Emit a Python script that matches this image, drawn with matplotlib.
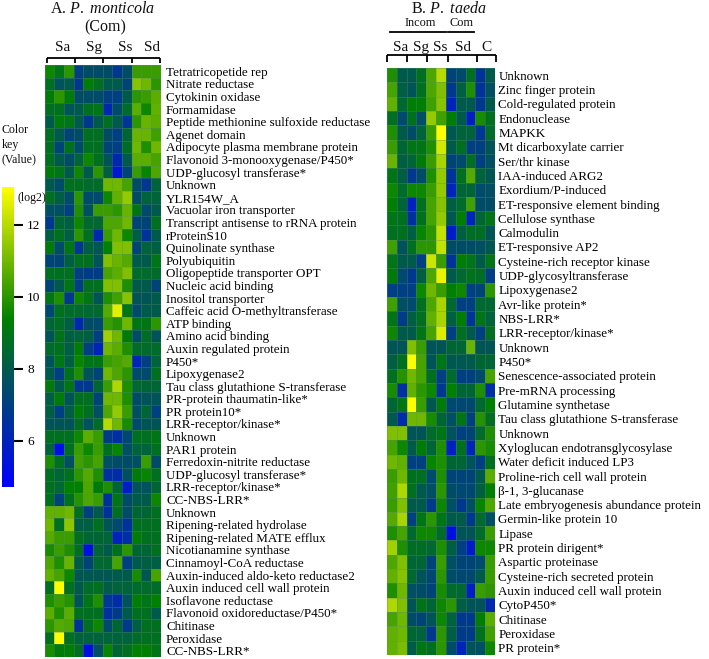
import numpy as np
import matplotlib
matplotlib.use("Agg")
import matplotlib.pyplot as plt
from matplotlib.colors import LinearSegmentedColormap, Normalize
from matplotlib.cm import ScalarMappable

plt.rcParams['font.family'] = ['Liberation Serif', 'DejaVu Serif']
plt.rcParams['mathtext.fontset'] = 'custom'
plt.rcParams['mathtext.rm'] = 'Liberation Serif'
plt.rcParams['mathtext.it'] = 'Liberation Serif:italic'

labels_a = ["Tetratricopetide rep","Nitrate reductase","Cytokinin oxidase","Formamidase",
"Peptide methionine sulfoxide reductase","Agenet domain","Adipocyte plasma membrane protein",
"Flavonoid 3-monooxygenase/P450*","UDP-glucosyl transferase*","Unknown","YLR154W_A",
"Vacuolar iron transporter","Transcript antisense to rRNA protein","rProteinS10","Quinolinate synthase",
"Polyubiquitin","Oligopeptide transporter OPT","Nucleic acid binding","Inositol transporter",
"Caffeic acid O-methyltransferase","ATP binding","Amino acid binding","Auxin regulated protein","P450*",
"Lipoxygenase2","Tau class glutathione S-transferase","PR-protein thaumatin-like*","PR protein10*",
"LRR-receptor/kinase*","Unknown","PAR1 protein","Ferredoxin-nitrite reductase","UDP-glucosyl transferase*",
"LRR-receptor/kinase*","CC-NBS-LRR*","Unknown","Ripening-related hydrolase","Ripening-related MATE efflux",
"Nicotianamine synthase","Cinnamoyl-CoA reductase","Auxin-induced aldo-keto reductase2",
"Auxin induced cell wall protein","Isoflavone reductase","Flavonoid oxidoreductase/P450*","Chitinase",
"Peroxidase","CC-NBS-LRR*"]

labels_b = ["Unknown","Zinc finger protein","Cold-regulated protein","Endonuclease","MAPKK",
"Mt dicarboxylate carrier","Ser/thr kinase","IAA-induced ARG2","Exordium/P-induced",
"ET-responsive element binding","Cellulose synthase","Calmodulin","ET-responsive AP2",
"Cysteine-rich receptor kinase","UDP-glycosyltransferase","Lipoxygenase2","Avr-like protein*","NBS-LRR*",
"LRR-receptor/kinase*","Unknown","P450*","Senescence-associated protein","Pre-mRNA processing",
"Glutamine synthetase","Tau class glutathione S-transferase","Unknown","Xyloglucan endotransglycosylase",
"Water deficit induced LP3","Proline-rich cell wall protein","β-1, 3-glucanase",
"Late embryogenesis abundance protein","Germin-like protein 10","Lipase","PR protein dirigent*",
"Aspartic proteinase","Cysteine-rich secreted protein","Auxin induced cell wall protein","CytoP450*",
"Chitinase","Peroxidase","PR protein*"]

values_a = [
[9.6,9,10,7,7.5,7.5,7.5,6.8,7.5,10.2,10.2,10.2],
[8.8,7.7,8,6.8,9.3,8.8,8,8,7.2,11.3,11,10],
[9.2,10,9.2,7.5,7.5,7.5,7,7,8,10,10.2,10.7],
[8.8,8.8,7.8,8,8.8,9,6.2,7.5,8.6,10.7,9.6,10.8],
[8,9.2,9,8,6.8,8,8.8,8,6.7,10,10.9,10.7],
[8.8,8,7.2,7.5,8.8,8.8,7.5,7,8.4,10.9,10.9,10.3],
[8.8,7.2,8.8,7.5,8.8,8.8,7.2,7,8.7,11,9.8,11],
[8.8,8,7.5,8.3,9.6,8.8,7.8,6.2,8,10.7,10.7,10.4],
[9.2,9,8,9.6,8,10,8.2,5.6,7.2,10.2,9.5,10.5],
[8,7.5,8.8,8.8,8.6,8.6,11,11,10.4,7.5,6.8,8.3],
[8.8,8.2,7.5,10,7.4,7.4,9.6,10.8,11.5,7.5,8.3,8.3],
[7.6,7.6,7,9.8,7.6,10.2,10.2,10,10.9,9,7.4,8],
[6.8,8.4,8.2,9.6,8.5,8.5,10.5,10.5,11,7.2,7.2,8.8],
[8.2,8.8,8.2,10,8.8,6.2,10.2,11,9.6,8.2,6.6,8],
[9.2,7.5,9,6.8,8.2,7.9,9.4,11.2,11.2,7.2,8.3,8.2],
[7.2,7.2,8.2,8.8,8.8,7.8,11.2,10.9,10.6,8,8,9],
[8.8,8.8,8.8,7,6.9,6.9,10.4,10.7,11.2,8.6,8.6,8.6],
[7.2,8,9,7,8.8,8.8,11.2,11.2,9.8,8,8,7.2],
[9,9.8,6.8,9.6,9,7.8,9.8,10.3,11.3,7.8,7.8,8],
[7.3,8.8,8.6,8.6,8.5,8.5,10.6,12.6,9,7.4,8,8],
[8.4,8.7,8.2,6.2,7.5,7.4,10.2,9.9,11,9,9,10],
[7.8,8.9,8.2,8.3,8.2,7,11.7,11,9.2,7.5,8.7,7.8],
[8.6,8.8,8.2,9.3,7,6,11,10.7,9.8,8.6,8.6,8.6],
[7.8,9,8.2,9.5,9,9,10.2,10.4,10.6,6,7,8.3],
[8,7,8.8,9.8,7.8,7.2,11,10.5,10,7.4,7.4,8.8],
[9.2,8,9,6.8,6.8,8.4,10.2,11.9,9.8,8.5,8.4,8.4],
[8.2,9.2,7.8,8.8,8.8,7.2,11,11,9.8,7.5,7.8,7.8],
[8.2,7,8.2,9.3,8.8,7.6,10.5,11.5,10.2,7.6,8.4,7],
[7.8,7.8,7.8,8.7,7.7,8.6,12,11,9.7,7.4,7.8,7.8],
[8.8,8.8,8.8,9.6,10.7,10.2,6.9,6.4,7.3,8.8,8.8,9],
[8.3,5.3,8.8,10.2,9.6,10.2,8.8,9.5,7.6,8.3,8.3,8.8],
[9.8,8.8,7.6,10.3,10,10.4,7.6,7.5,7.5,7.6,10.2,7.5],
[8.8,8.4,8.8,10,10.6,9.8,6.5,6.3,7.6,9.2,9.5,8.8],
[8.8,8.5,9.4,9.4,10.5,9.2,9.8,8.4,5.8,7.8,7.7,8.4],
[8.8,7.2,8.8,9.9,10.5,10.2,6.5,9,7.5,8,8,9.6],
[10.8,10.8,11,8.8,7,8,6.5,8.8,7.5,8.4,8.4,8.8],
[11,8.8,11.4,8.2,8.2,8.8,7.8,7.4,6.6,8.8,8.8,8.8],
[10.6,10.2,10.2,8.8,8.4,8.4,8.4,6,6.4,9.3,8.8,8.8],
[9.7,10.2,9.8,8.8,5.3,8.4,8,8.8,10,8.4,8.4,8.8],
[10.5,9.8,10.9,8.1,7.2,8.5,8.5,10.4,7,8,8.2,8.2],
[10.8,10.4,9.6,7.9,7.9,7.9,7.9,8,8,9.7,7.9,10.4],
[8.8,13,8.8,8,8.6,8.8,8.1,8.3,8.3,8.6,8.6,8.6],
[9.8,10.2,9.9,7.8,9,9.8,6.7,6.3,7.7,9.3,9,9.4],
[10.7,9.8,10.7,8.8,8.8,8.8,6.5,6.9,8,8.8,8.8,8],
[10,10.6,10.5,6.6,8.8,9.6,7.4,8.4,6.9,8.2,8.8,8.8],
[8.8,13,8.8,8.3,8.3,8.3,8.3,8.3,8.3,8.6,8.8,8.8],
[9.7,9.2,9.3,8.8,5.3,7.6,9.5,8.4,8.8,9.4,9.4,9],
]

values_b = [
[9.8,8,8,8.8,10.5,12,7.2,7.4,8.8,6.6,8],
[10.4,8.2,7.8,8.8,10.5,11.2,6.8,8.2,9.8,6.6,7.6],
[10.8,8.5,9.3,9.3,10.3,11.3,6,8,8,6.8,8],
[8.8,7.4,8.8,7.6,11.5,10.3,9.3,8,5.8,9.7,8.8],
[9.8,8,7.5,8.3,10.2,13,7.9,8.3,8.3,6.7,8.6],
[10.2,8.4,9,9,9.8,12.4,8,8.8,7,7,7.8],
[10.9,8.2,8.4,9.2,10.2,11.8,7.2,7.4,8.8,7,7.6],
[9,8.2,6.8,7.5,9.8,11.5,6.6,8.8,10.6,8.3,7.9],
[9.6,8.6,9.6,9.6,10.2,11.5,6,8.4,8.4,7.4,7.6],
[9.4,8.4,5.9,8.8,10.4,11.3,8.2,8.6,10.3,7.5,7.5],
[9,8.8,6.5,8.8,10.4,11.5,7.9,9.3,6,8.4,9],
[8.8,8.8,8.2,9.5,10,12.2,5.7,8.2,8.7,8.7,7.8],
[10.3,7.7,8.8,10,10,12.2,7.5,7.5,7.5,7.6,7.9],
[9,8,8,7,12.3,10.2,6.6,9.3,9,8,9],
[9.2,7.4,6.8,8.2,10.5,12.7,8,8.5,8.9,8.7,7],
[7,7,7,9.6,11,10.2,9.4,9.6,7,7.2,10],
[10.3,7.6,7.4,8.8,10.5,11.8,8.5,7,7,8.5,8.5],
[9,6.9,8.2,8.8,10.8,11.8,8.2,9.3,6.6,9,8.3],
[9.6,8,8,9,10.4,12.5,7,8.8,8,7,8.8],
[7.8,7.8,11.2,10.2,7.8,7.8,8.4,8.4,10.9,7.8,7.8],
[8.2,8.8,13,10.4,7.8,9,7.9,7.9,8,8.4,8.4],
[8.8,9.9,11,10.4,8.8,7,8.6,7,7,7.4,10.4],
[9.7,6.4,10.8,10,9.6,6.8,9.4,8.4,8.4,9.8,6.4],
[8.4,9,13,10.2,7.9,9.2,7.3,7.3,7.3,8.5,9.4],
[8,6.3,11,11,9.7,8.4,7.6,9,7,9.9,8.8],
[11.2,11.2,7.8,7.8,8.6,9,7.7,7,7.2,8.6,9.8],
[10.4,9.6,8,9.2,8.4,9.8,5.9,8.8,6,10,9.7],
[11,10.8,7,7,9.5,9.8,8.4,8.4,7.7,7,8.8],
[10.2,11,8.8,8.8,7.4,9.8,7.2,7.2,7.2,8,10.7],
[10.3,11.9,8.8,8,7.6,10,7.5,7.3,7.3,8.2,9.4],
[10.2,11.2,8,8,6.9,9.6,7.6,6.8,7.6,9.5,10.5],
[10.6,11.8,7,9,10,9,8,8,6.8,8.6,7.6],
[9.8,10.4,8.5,9.6,9.6,8.6,5.3,7.8,7.8,8.6,10.2],
[11.7,9.8,8.7,8.7,8.5,9.8,8.2,7,5.7,9.6,9.6],
[10.5,11.2,8.4,8.4,7.2,10.2,7.6,7.2,7.2,7.4,10.2],
[10.8,11.3,8.5,7.8,7.3,10,7.5,7.3,7.3,8,10.2],
[9.8,11,7.6,7.5,7.2,9.7,8.6,8.5,5.8,10.2,10],
[11.9,11.2,7.8,8.9,8.4,9.6,10,8.2,7.8,7.8,6.2],
[10.4,11,7.5,7.2,7.8,9.6,8.3,6.8,6.8,9.3,10.7],
[10.8,11,8.4,8.3,6.8,10,8.2,6.9,6.9,8.8,10.3],
[10.8,11.1,8,9,8.8,10,7.5,6,7.8,7.6,9.6],
]

key_ticks = [6, 8, 10, 12]
key_range = (4.72, 13.05)

W, H = 709, 659
fig = plt.figure(figsize=(W/100, H/100), dpi=100)

def px_axes(x0, y0, x1, y1):
    return fig.add_axes([x0/W, 1-y1/H, (x1-x0)/W, (y1-y0)/H])

cmap = LinearSegmentedColormap.from_list("key", [(0, "#0000ff"), (0.56, "#008000"), (1, "#ffff00")])
norm = Normalize(*key_range)

def heat(vals, labels, box, lx):
    ax = px_axes(*box)
    arr = np.array(vals)
    ax.pcolormesh(arr, cmap=cmap, norm=norm, edgecolors=(0.35, 0.55, 0.45, 0.35), linewidth=0.4)
    ax.set_ylim(len(labels), 0)
    ax.set_xlim(0, arr.shape[1])
    ax.set_xticks([])
    ax.yaxis.tick_right()
    ax.set_yticks(np.arange(len(labels)) + 0.5, labels, fontsize=9.4)
    ax.tick_params(axis='y', length=0, pad=lx)
    for s in ax.spines.values():
        s.set_visible(False)
    return ax

heat(values_a, labels_a, (44.5, 65, 160.5, 657), 4)
heat(values_b, labels_b, (387, 68, 495, 655), 2.5)

cax = px_axes(2, 187, 14, 487)
cb = fig.colorbar(ScalarMappable(norm=norm, cmap=cmap), cax=cax)
cb.set_ticks(key_ticks)
cb.ax.tick_params(length=6.5, width=1.5, labelsize=9.6, pad=3)
cb.outline.set_visible(False)

ov = fig.add_axes([0, 0, 1, 1])
ov.set_xlim(0, W); ov.set_ylim(H, 0); ov.axis('off'); ov.patch.set_alpha(0)

def t(x, y, s, size=10.5, ha='center'):
    ov.text(x, y, s, fontsize=size, ha=ha, va='baseline', color='#111111')

t(103, 13, r"A. $\mathit{P.}$ $\mathit{monticola}$", 11.5)
t(105, 31, "(Com)", 11.5)
for x, s in zip([63, 94, 125, 152], ["Sa", "Sg", "Ss", "Sd"]):
    t(x, 51, s, 11)
t(449, 13, r"B. $\mathit{P.}$ $\mathit{taeda}$", 11.5)
t(420, 26, "Incom", 8.8)
t(461, 26, "Com", 8.8)
for x, s in zip([401, 421, 440, 463, 486], ["Sa", "Sg", "Ss", "Sd", "C"]):
    t(x, 51, s, 11)
t(2, 133, "Color", 8.6, 'left')
t(2, 148, "key", 8.6, 'left')
t(2, 162, "(Value)", 8.6, 'left')
t(18, 201, "(log2)", 8.6, 'left')

def bracket(xs, y0, y1):
    ov.plot([xs[0], xs[-1]], [y0, y0], color='k', lw=1.3, solid_capstyle='butt')
    for x in xs:
        ov.plot([x, x], [y0, y1], color='k', lw=1.3, solid_capstyle='butt')

bracket([47, 75, 103, 132, 160], 58, 63)
bracket([387, 407, 427, 448, 477, 496], 55, 62)
ov.plot([390, 446], [32, 32], color='k', lw=1.3)
ov.plot([448, 474], [32, 32], color='k', lw=1.3)

fig.savefig("out.png", dpi=100)
